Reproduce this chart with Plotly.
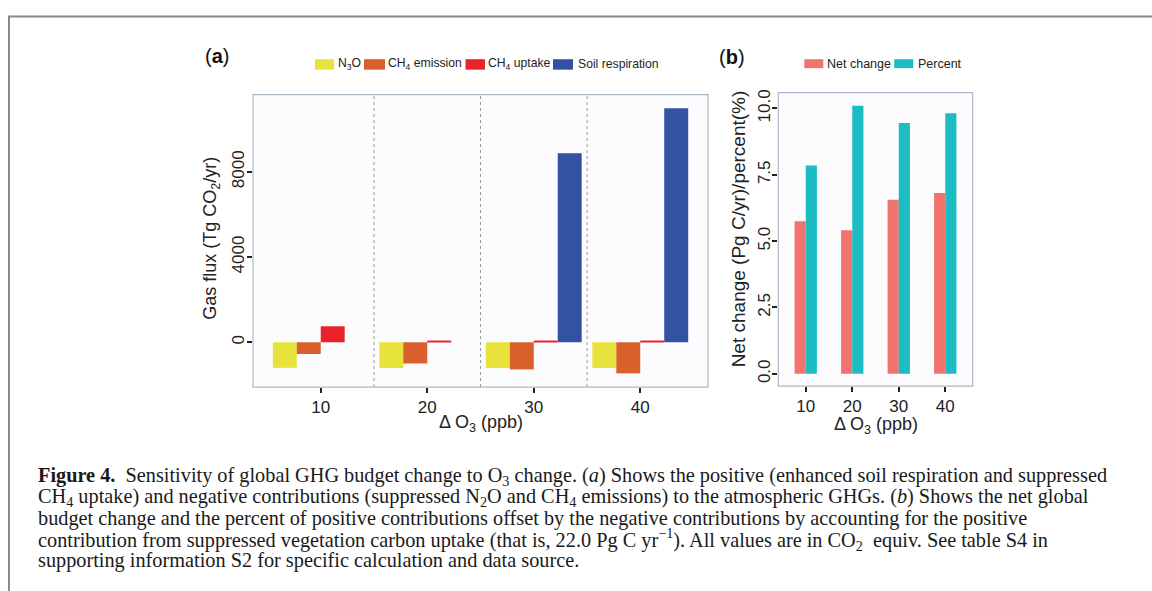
import plotly.graph_objects as go

W, H = 1152, 591

# ---------------- data ----------------
o3_levels = ["10", "20", "30", "40"]

n2o = [-1200, -1210, -1210, -1210]
ch4_emission = [-550, -995, -1275, -1460]
ch4_uptake = [750, 70, 60, 70]
soil_respiration = [0, 0, 8870, 10980]

net_change = [5.75, 5.41, 6.56, 6.81]
percent = [7.85, 10.10, 9.45, 9.82]

legend_a = ["N<sub>3</sub>O", "CH<sub>4</sub> emission", "CH<sub>4</sub> uptake", "Soil respiration"]
legend_b = ["Net change", "Percent"]

caption_lines = [
    "<b>Figure 4.</b>  Sensitivity of global GHG budget change to O<sub>3</sub> change. (<i>a</i>) Shows the positive (enhanced soil respiration and suppressed",
    "CH<sub>4</sub> uptake) and negative contributions (suppressed N<sub>2</sub>O and CH<sub>4</sub> emissions) to the atmospheric GHGs. (<i>b</i>) Shows the net global",
    "budget change and the percent of positive contributions offset by the negative contributions by accounting for the positive",
    "contribution from suppressed vegetation carbon uptake (that is, 22.0 Pg C yr<sup>\u22121</sup>). All values are in CO<sub>2</sub>  equiv. See table S4 in",
    "supporting information S2 for specific calculation and data source.",
]

# ---------------- styles ----------------
col_a = ["#E8E23C", "#D9602A", "#E8232B", "#3452A2"]
col_b = ["#F0736D", "#1BBCC4"]
SANS = "Liberation Sans"
SERIF = "Liberation Serif"


def px(x):
    return x / W


def py(y):
    return 1 - y / H


fig = go.Figure()

series_a = [n2o, ch4_emission, ch4_uptake, soil_respiration]
wa = 0.225
for i, (vals, c, name) in enumerate(zip(series_a, col_a, legend_a)):
    fig.add_trace(go.Bar(
        x=o3_levels, y=vals, name=name, marker=dict(color=c, line=dict(width=0)),
        width=wa, offset=-2 * wa + i * wa, xaxis="x", yaxis="y", showlegend=False,
    ))

wb = 0.24
for i, (vals, c, name) in enumerate(zip([net_change, percent], col_b, legend_b)):
    fig.add_trace(go.Bar(
        x=o3_levels, y=vals, name=name, marker=dict(color=c, line=dict(width=0)),
        width=wb, offset=-wb + i * wb, xaxis="x2", yaxis="y2", showlegend=False,
    ))

axis_common = dict(
    showgrid=False, zeroline=False, showline=False,
    ticks="outside", ticklen=5, tickwidth=1.5, tickcolor="#222",
    tickfont=dict(family=SANS, size=17, color="#222"),
)

fig.update_layout(
    width=W, height=H,
    margin=dict(l=0, r=0, t=0, b=0),
    paper_bgcolor="white",
    plot_bgcolor="#fcfcfe",
    barmode="overlay",
    xaxis=dict(domain=[px(253), px(708)], range=[-0.636, 3.636], type="category",
               anchor="y", **axis_common),
    yaxis=dict(domain=[py(386), py(92)], range=[-2101, 11628], anchor="x",
               tickvals=[0, 4000, 8000], tickangle=-90, ticklabelstandoff=-4, **axis_common),
    xaxis2=dict(domain=[px(778.3), px(972.7)], range=[-0.59, 3.59], type="category",
                anchor="y2", **axis_common),
    yaxis2=dict(domain=[py(385), py(90)], range=[-0.46, 10.6], anchor="x2",
                tickvals=[0, 2.5, 5, 7.5, 10], ticktext=["0.0", "2.5", "5.0", "7.5", "10.0"],
                tickangle=-90, ticklabelstandoff=-4, **axis_common),
)

shapes = []
# plot frames
for xr, yr in [("x domain", "y domain"), ("x2 domain", "y2 domain")]:
    shapes.append(dict(type="rect", xref=xr, yref=yr, x0=0, x1=1, y0=0, y1=1,
                       line=dict(color="#aab8c6", width=1.2), fillcolor="rgba(0,0,0,0)"))
# dotted separators between O3 groups
for xs in [0.5, 1.5, 2.5]:
    shapes.append(dict(type="line", xref="x", yref="y domain", x0=xs, x1=xs, y0=0, y1=1,
                       line=dict(color="#9a9a9a", width=1, dash="dot")))
# page frame lines
shapes.append(dict(type="line", xref="paper", yref="paper", x0=px(8), x1=1, y0=py(13.5), y1=py(13.5),
                   line=dict(color="#8a8a8a", width=2)))
shapes.append(dict(type="line", xref="paper", yref="paper", x0=px(9), x1=px(9), y0=py(13), y1=0,
                   line=dict(color="#8a8a8a", width=2)))

annotations = []
# legend (a)
leg_a_sw = [(315, 334), (364, 385), (465.5, 485), (553, 573)]
leg_a_tx = [335.5, 386, 486, 576]
for (x0, x1), tx, c, name in zip(leg_a_sw, leg_a_tx, col_a, legend_a):
    shapes.append(dict(type="rect", xref="paper", yref="paper", x0=px(x0), x1=px(x1),
                       y0=py(67), y1=py(56.5), fillcolor=c, line=dict(width=0)))
    annotations.append(dict(x=px(tx), y=py(61.5), xref="paper", yref="paper", text=name,
                            showarrow=False, xanchor="left", yanchor="middle",
                            font=dict(family=SANS, size=12.2, color="#222")))
# legend (b)
leg_b_sw = [(804.3, 823.3), (894.3, 913.3)]
leg_b_tx = [824.5, 915.5]
for (x0, x1), tx, c, name in zip(leg_b_sw, leg_b_tx, col_b, legend_b):
    shapes.append(dict(type="rect", xref="paper", yref="paper", x0=px(x0), x1=px(x1),
                       y0=py(65.5), y1=py(56.5), fillcolor=c, line=dict(width=0)))
    annotations.append(dict(x=px(tx), y=py(61), xref="paper", yref="paper", text=name,
                            showarrow=False, xanchor="left", yanchor="middle",
                            font=dict(family=SANS, size=12.5, color="#222")))

# panel labels
annotations.append(dict(x=px(203), y=py(53), xref="paper", yref="paper", text="(<b>a</b>)",
                        showarrow=False, xanchor="left", yanchor="middle",
                        font=dict(family=SANS, size=20, color="#111")))
annotations.append(dict(x=px(716.5), y=py(54), xref="paper", yref="paper", text="(<b>b</b>)",
                        showarrow=False, xanchor="left", yanchor="middle",
                        font=dict(family=SANS, size=20, color="#111")))

# axis titles
annotations.append(dict(x=px(481), y=py(423), xref="paper", yref="paper",
                        text="\u0394 O<sub>3</sub> (ppb)", showarrow=False,
                        xanchor="center", yanchor="middle",
                        font=dict(family=SANS, size=18, color="#222")))
annotations.append(dict(x=px(876), y=py(425), xref="paper", yref="paper",
                        text="\u0394 O<sub>3</sub> (ppb)", showarrow=False,
                        xanchor="center", yanchor="middle",
                        font=dict(family=SANS, size=18, color="#222")))
annotations.append(dict(x=px(212), y=py(237), xref="paper", yref="paper",
                        text="Gas flux (Tg CO<sub>2</sub>/yr)", showarrow=False, textangle=-90,
                        xanchor="center", yanchor="middle",
                        font=dict(family=SANS, size=18, color="#222")))
annotations.append(dict(x=px(738.5), y=py(227), xref="paper", yref="paper",
                        text="Net change (Pg C/yr)/percent(%)", showarrow=False, textangle=-90,
                        xanchor="center", yanchor="middle",
                        font=dict(family=SANS, size=19, color="#222")))

# caption
cap_y = [476, 497, 518, 539, 560]
for yy, line in zip(cap_y, caption_lines):
    annotations.append(dict(x=px(36), y=py(yy), xref="paper", yref="paper", text=line,
                            showarrow=False, xanchor="left", yanchor="middle",
                            font=dict(family=SERIF, size=20.3, color="#1a1a1a")))

fig.update_layout(shapes=shapes, annotations=annotations)

fig.write_html("out.html", config={"displayModeBar": False},
               post_script="document.body.style.margin='0';document.body.style.overflow='hidden';")
